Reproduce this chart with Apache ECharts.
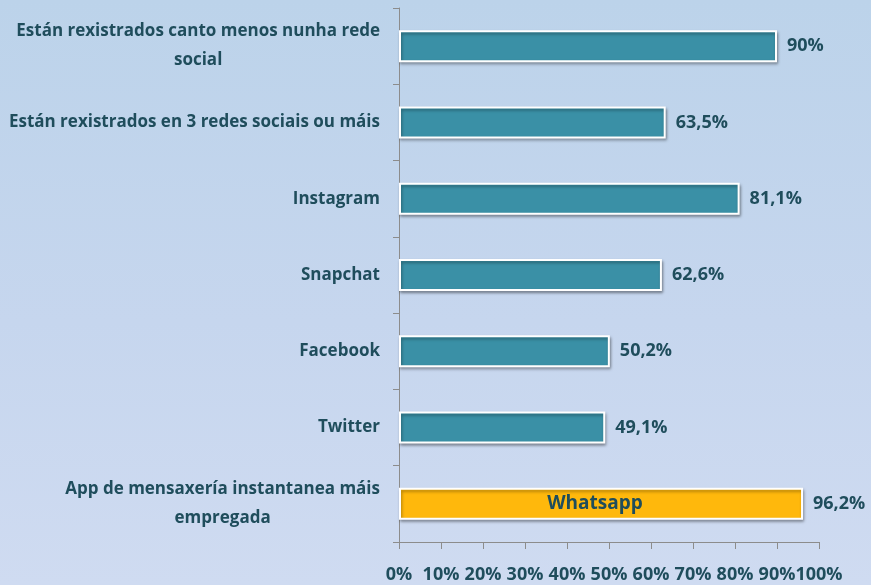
<!DOCTYPE html>
<html>
<head>
<meta charset="utf-8">
<style>
    html, body { margin: 0; padding: 0; }
    #chart { width: 871px; height: 585px; background: linear-gradient(180deg, #bcd3ea 0%, #c6d6ee 55%, #cfdbf1 100%); }
</style>
<script src="https://cdn.jsdelivr.net/npm/echarts@6/dist/echarts.min.js"></script>
</head>
<body>
<div id="chart"></div>
<script>
// categorías (de arriba a abaixo)
const categories = [
    ['Están rexistrados canto menos nunha rede', 'social'],
    ['Están rexistrados en 3 redes sociais ou máis'],
    ['Instagram'],
    ['Snapchat'],
    ['Facebook'],
    ['Twitter'],
    ['App de mensaxería instantanea máis', 'empregada']
]
const values = [90, 63.5, 81.1, 62.6, 50.2, 49.1, 96.2]
const highlightIndex = 6
const highlightName = 'Whatsapp'
const xTicks = [0, 10, 20, 30, 40, 50, 60, 70, 80, 90, 100]

const textColor = '#1f4d5c'
const fontFamily = '"Open Sans", sans-serif'

const fmt = (v) => String(v).replace('.', ',') + '%'

const chart = echarts.init(document.getElementById('chart'))

const mainData = values.map((v, i) => ({
    value: v,
    itemStyle: { color: i === highlightIndex ? '#ffb80c' : '#3a90a6' }
}))
const overlayData = values.map((v, i) => (i === highlightIndex ? v : null))

chart.setOption({
    animation: false,
    grid: { left: 399, right: 52, top: 8, bottom: 43 },
    xAxis: {
        type: 'value',
        min: xTicks[0],
        max: xTicks[xTicks.length - 1],
        interval: 10,
        splitLine: { show: false },
        axisLine: { show: true, lineStyle: { color: '#8c8c8c', width: 1 } },
        axisTick: { show: true, length: 7, lineStyle: { color: '#8c8c8c' } },
        axisLabel: {
            margin: 24,
            color: textColor,
            fontFamily,
            fontWeight: 'bold',
            fontSize: 18,
            formatter: (v) => v + '%'
        }
    },
    yAxis: {
        type: 'category',
        inverse: true,
        data: categories.map((c) => c.join('\n')),
        axisLine: { show: true, lineStyle: { color: '#8c8c8c', width: 1 } },
        axisTick: { show: true, length: 6, lineStyle: { color: '#8c8c8c' } },
        axisLabel: {
            margin: 19,
            color: textColor,
            fontFamily,
            fontWeight: 'bold',
            fontSize: 17,
            lineHeight: 29,
            formatter: (v) => v.split('\n').map((l) => '{c|' + l + '}').join('\n'),
            rich: {
                c: {
                    align: 'center',
                    color: textColor,
                    fontFamily,
                    fontWeight: 'bold',
                    fontSize: 17,
                    lineHeight: 29
                }
            }
        }
    },
    series: [
        {
            type: 'bar',
            data: mainData,
            barWidth: 32,
            itemStyle: {
                borderColor: '#ffffff',
                borderWidth: 2,
                shadowColor: 'rgba(0,0,0,0.35)',
                shadowBlur: 3,
                shadowOffsetX: 1,
                shadowOffsetY: 2
            },
            label: {
                show: true,
                position: 'right',
                distance: 10,
                color: textColor,
                fontFamily,
                fontWeight: 'bold',
                fontSize: 18,
                formatter: (p) => fmt(p.value)
            }
        },
        {
            type: 'bar',
            data: overlayData,
            barWidth: 32,
            barGap: '-100%',
            silent: true,
            itemStyle: { color: 'rgba(0,0,0,0)' },
            label: {
                show: true,
                position: 'inside',
                offset: [-6, 0],
                color: textColor,
                fontFamily,
                fontWeight: 'bold',
                fontSize: 19,
                formatter: () => highlightName
            }
        }
    ]
})
</script>
</body>
</html>
